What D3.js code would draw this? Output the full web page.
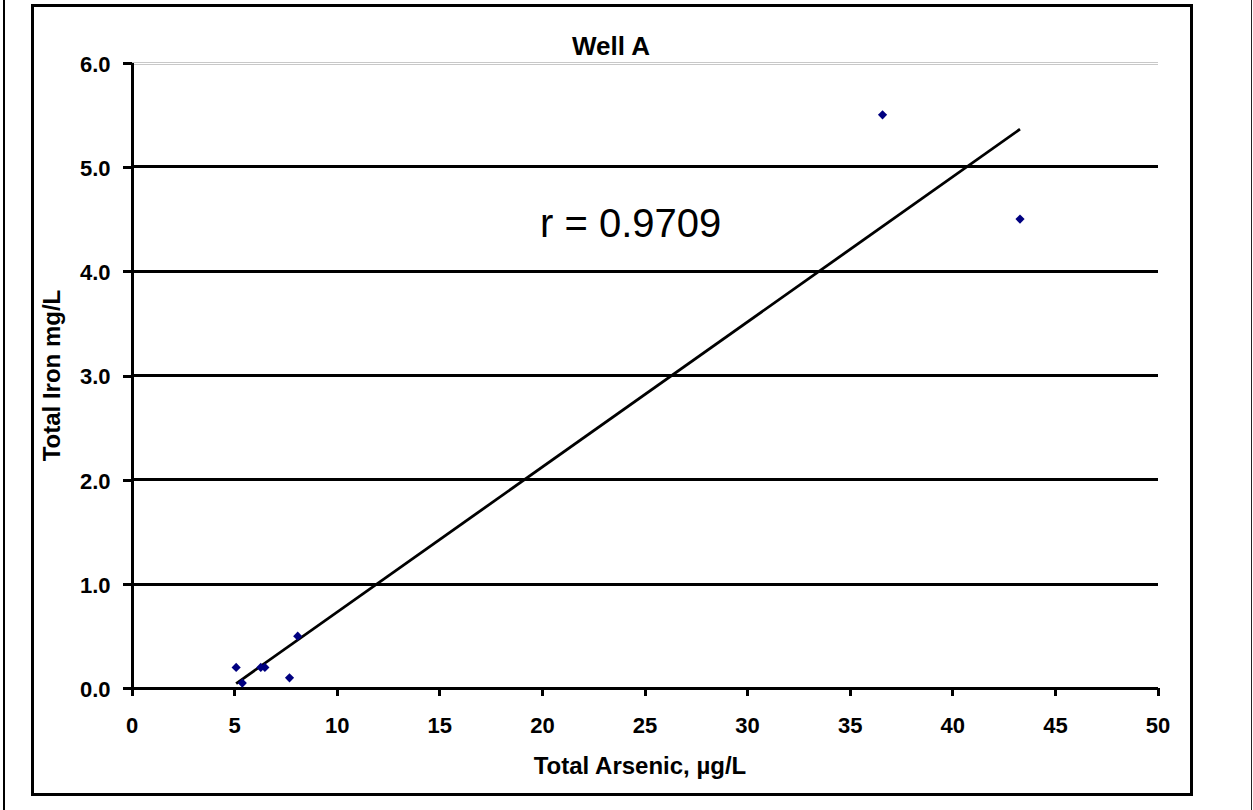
<!DOCTYPE html>
<head>
  <meta charset="utf-8">
  <script src="https://d3js.org/d3.v7.min.js"></script>
  <style type="text/css">
    * { font-family: Arial, "Liberation Sans", sans-serif }
    body { margin: 0; background: #fff; }
  </style>
</head>
<body>
<div id="my_dataviz"></div>
<script>

// data
var arsenic = [5.1, 5.4, 6.3, 6.5, 7.7, 8.1, 36.6, 43.3];   // Total Arsenic, ug/L
var iron    = [0.2, 0.05, 0.2, 0.2, 0.1, 0.5, 5.5, 4.5];   // Total Iron mg/L
var xTicks  = [0, 5, 10, 15, 20, 25, 30, 35, 40, 45, 50];
var yTicks  = [0, 1, 2, 3, 4, 5, 6];
var titleText = "Well A";
var rText = "r = 0.9709";

var W = 1253, H = 810;
var plot = {left: 131.5, right: 1157.5, top: 62.7, bottom: 688.3};

var svg = d3.select("#my_dataviz")
  .append("svg")
    .attr("width", W)
    .attr("height", H);

// outer page lines
svg.append("line").attr("x1", 4).attr("x2", 4).attr("y1", 0).attr("y2", H)
  .attr("stroke", "#000").attr("stroke-width", 2);
svg.append("line").attr("x1", 1251.5).attr("x2", 1251.5).attr("y1", 0).attr("y2", H)
  .attr("stroke", "#222").attr("stroke-width", 1);

// chart frame
svg.append("rect")
  .attr("x", 32.5).attr("y", 5.5)
  .attr("width", 1159).attr("height", 788.5)
  .attr("fill", "none").attr("stroke", "#000").attr("stroke-width", 3)
  .attr("shape-rendering", "crispEdges");

var x = d3.scaleLinear().domain([0, 50]).range([plot.left, plot.right]);
var y = d3.scaleLinear().domain([0, 6]).range([plot.bottom, plot.top]);

// gridlines
svg.append("g")
  .attr("shape-rendering", "crispEdges")
  .selectAll("line")
  .data(yTicks.filter(function(d) { return d > 0 && d < 6; }))
  .enter()
  .append("line")
    .attr("x1", plot.left).attr("x2", plot.right)
    .attr("y1", function(d) { return y(d); })
    .attr("y2", function(d) { return y(d); })
    .attr("stroke", "#000").attr("stroke-width", 3);

// top of plot area: light double line
[-1, 1].forEach(function(o) {
  svg.append("line")
    .attr("x1", plot.left).attr("x2", plot.right + 0.5)
    .attr("y1", Math.round(y(6)) + o + 0.5).attr("y2", Math.round(y(6)) + o + 0.5)
    .attr("stroke", "#c8c8c8").attr("stroke-width", 1);
});

// X axis
var xAxis = svg.append("g")
  .attr("transform", "translate(0," + plot.bottom + ")")
  .attr("shape-rendering", "crispEdges")
  .call(d3.axisBottom(x).tickValues(xTicks).tickSize(8).tickSizeOuter(0).tickFormat(d3.format("d")));
xAxis.select(".domain").attr("stroke-width", 3);
xAxis.selectAll(".tick line").attr("stroke-width", 3);
xAxis.selectAll(".tick text")
  .attr("y", 0).attr("dy", 0)
  .attr("transform", "translate(0,44.5)")
  .style("font-size", "22px").style("font-weight", "bold").attr("fill", "#000");

// Y axis
var yAxis = svg.append("g")
  .attr("transform", "translate(" + plot.left + ",0)")
  .attr("shape-rendering", "crispEdges")
  .call(d3.axisLeft(y).tickValues(yTicks).tickSize(9).tickSizeOuter(0).tickFormat(d3.format(".1f")));
yAxis.select(".domain").attr("stroke-width", 3);
yAxis.selectAll(".tick line").attr("stroke-width", 3);
yAxis.selectAll(".tick text")
  .attr("x", -21).attr("dy", "0.38em")
  .style("font-size", "22px").style("font-weight", "bold").attr("fill", "#000");

// least squares trend line
var mx = d3.mean(arsenic), my = d3.mean(iron);
var sxy = d3.sum(arsenic, function(d, i) { return (d - mx) * (iron[i] - my); });
var sxx = d3.sum(arsenic, function(d) { return (d - mx) * (d - mx); });
var slope = sxy / sxx, intercept = my - slope * mx;
var xr = d3.extent(arsenic);
svg.append("line")
  .attr("x1", x(xr[0])).attr("y1", y(intercept + slope * xr[0]))
  .attr("x2", x(xr[1])).attr("y2", y(intercept + slope * xr[1]))
  .attr("stroke", "#000").attr("stroke-width", 2.8);

// points
var diamond = d3.symbol().type(d3.symbolSquare).size(42);
svg.append("g")
  .selectAll("path")
  .data(arsenic)
  .enter()
  .append("path")
    .attr("d", diamond)
    .attr("transform", function(d, i) { return "translate(" + x(d) + "," + y(iron[i]) + ") rotate(45)"; })
    .attr("fill", "#000080");

// texts
svg.append("text")
  .attr("x", 611).attr("y", 55)
  .attr("text-anchor", "middle")
  .style("font-size", "26px").style("font-weight", "bold")
  .text(titleText);

svg.append("text")
  .attr("x", 540).attr("y", 237)
  .style("font-size", "40px")
  .text(rText);

svg.append("text")
  .attr("x", 640).attr("y", 774)
  .attr("text-anchor", "middle")
  .style("font-size", "24px").style("font-weight", "bold")
  .text("Total Arsenic, \u00b5g/L");

svg.append("text")
  .attr("transform", "translate(60," + ((plot.top + plot.bottom) / 2) + ") rotate(-90)")
  .attr("text-anchor", "middle")
  .style("font-size", "24px").style("font-weight", "bold")
  .text("Total Iron mg/L");

</script>
</body>
</html>
